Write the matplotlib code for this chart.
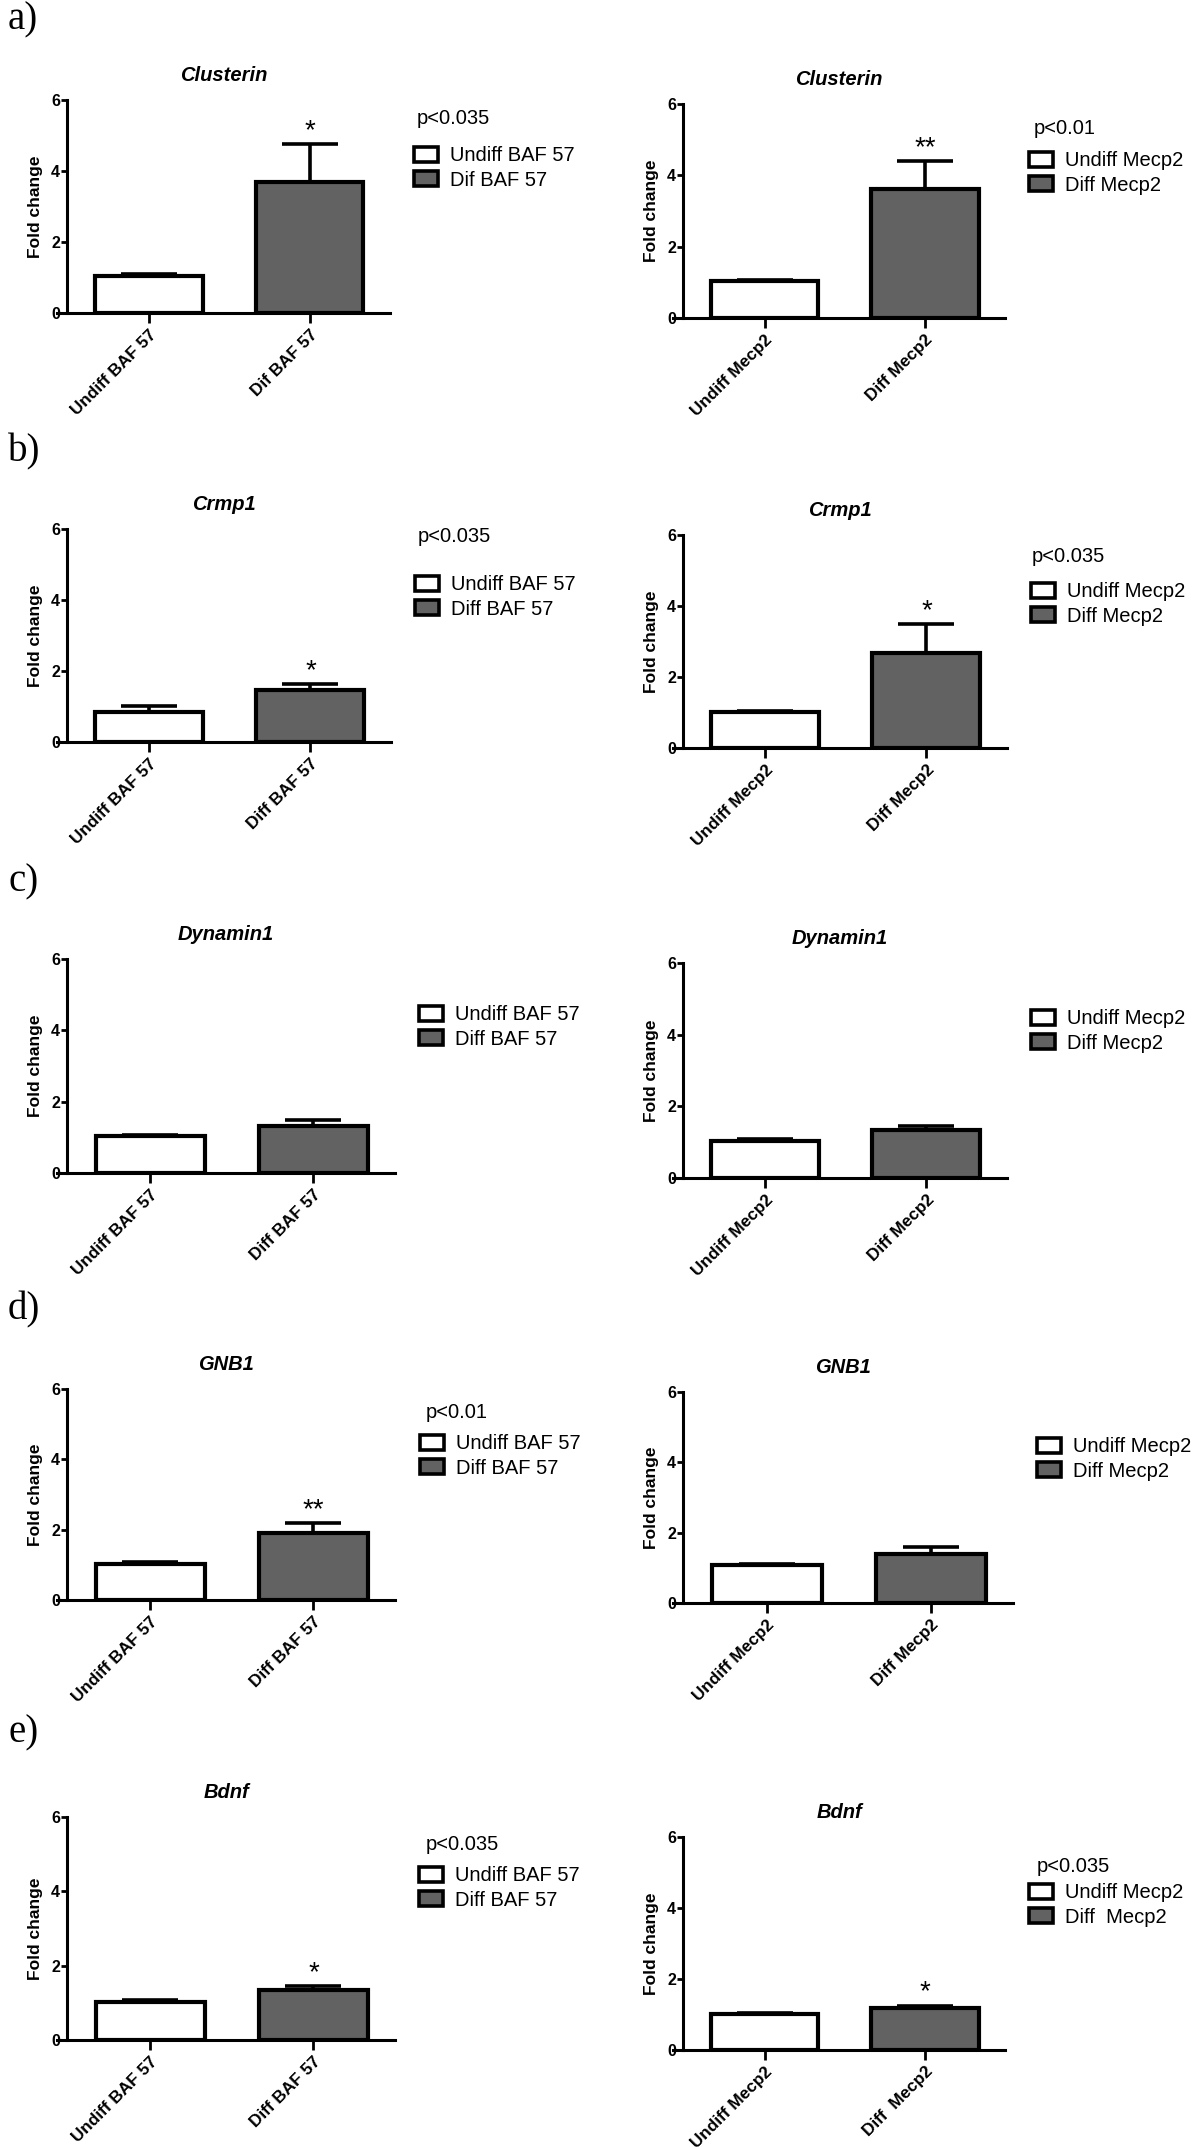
import matplotlib
matplotlib.use('Agg')
import matplotlib.pyplot as plt
from matplotlib.patches import Patch

plt.rcParams['font.family'] = ['Liberation Sans', 'DejaVu Sans']

# data (fold change, mean and upper error)
genes = ['Clusterin', 'Crmp1', 'Dynamin1', 'GNB1', 'Bdnf']
letters = ['a)', 'b)', 'c)', 'd)', 'e)']

baf_groups = [['Undiff BAF 57', 'Dif BAF 57'],
              ['Undiff BAF 57', 'Diff BAF 57'],
              ['Undiff BAF 57', 'Diff BAF 57'],
              ['Undiff BAF 57', 'Diff BAF 57'],
              ['Undiff BAF 57', 'Diff BAF 57']]
baf_means = [[1.03, 3.68], [0.85, 1.47], [1.03, 1.31], [1.02, 1.90], [1.02, 1.35]]
baf_err = [[0.07, 1.08], [0.17, 0.15], [0.04, 0.19], [0.05, 0.28], [0.06, 0.11]]
baf_p = ['p<0.035', 'p<0.035', '', 'p<0.01', 'p<0.035']
baf_stars = ['*', '*', '', '**', '*']

mecp2_groups = [['Undiff Mecp2', 'Diff Mecp2'],
                ['Undiff Mecp2', 'Diff Mecp2'],
                ['Undiff Mecp2', 'Diff Mecp2'],
                ['Undiff Mecp2', 'Diff Mecp2'],
                ['Undiff Mecp2', 'Diff  Mecp2']]
mecp2_means = [[1.03, 3.63], [1.02, 2.68], [1.03, 1.35], [1.07, 1.40], [1.01, 1.19]]
mecp2_err = [[0.04, 0.76], [0.02, 0.81], [0.05, 0.09], [0.04, 0.19], [0.04, 0.06]]
mecp2_p = ['p<0.01', 'p<0.035', '', '', 'p<0.035']
mecp2_stars = ['**', '*', '', '', '*']

# layout in pixels of the 1200x2147 canvas: (y-axis x, x1, y_top, y_zero)
W, H = 1200, 2147
left_boxes = [(67, 390, 100, 313), (67, 391, 529, 742), (67, 395, 959, 1173),
              (67, 395, 1389, 1600), (67, 395, 1817, 2040)]
right_boxes = [(683, 1005, 104, 318), (683, 1007, 535, 748), (683, 1007, 963, 1178),
               (683, 1013, 1392, 1603), (683, 1005, 1837, 2050)]
# (legend box left, legend middle y, p-text x, p-text y)
left_leg = [(414, 168, 417, 118), (415, 597, 418, 537), (419, 1027, 0, 0),
            (420, 1456, 426, 1412), (419, 1888, 426, 1845)]
right_leg = [(1029, 173, 1034, 129), (1031, 604, 1032, 557), (1031, 1031, 0, 0),
             (1037, 1459, 0, 0), (1029, 1905, 1037, 1866)]
letter_y = [20, 452, 882, 1310, 1733]

WHITE = 'white'
GREY = '#626262'
XMIN, XMAX, OVER = -0.51, 1.5, 0.06   # x-axis line overhangs the y axis a little

fig = plt.figure(figsize=(W / 100, H / 100), dpi=100)


def fx(px):
    return px / W


def fy(py):
    return 1 - py / H


def panel(box, leg, gene, groups, means, err, ptxt, star):
    x0, x1, yt, yb = box
    unit = (x1 - x0) / (XMAX - XMIN)
    bx0 = x0 - OVER * unit
    ax = fig.add_axes([fx(bx0), fy(yb), fx(x1 - bx0), (yb - yt) / H])
    xs = [0, 1]
    ax.bar(xs, means, width=0.67, color=[WHITE, GREY], edgecolor='black',
           linewidth=3.0, zorder=3)
    ax.errorbar(xs, means, yerr=[[0, 0], err], fmt='none', ecolor='black',
                elinewidth=2.6, capsize=20, capthick=2.6, zorder=2)
    ax.set_xlim(XMIN - OVER, XMAX)
    ax.set_ylim(0, 6)
    ax.spines['left'].set_position(('data', XMIN))
    ax.set_yticks([0, 2, 4, 6])
    ax.set_xticks(xs)
    ax.set_xticklabels(groups, rotation=45, ha='right', rotation_mode='anchor',
                       fontsize=12.3, fontweight='bold')
    for lab in ax.get_yticklabels():
        lab.set_fontweight('bold')
        lab.set_fontsize(11.5)
    ax.tick_params(axis='y', length=4, width=2, pad=1)
    ax.tick_params(axis='x', length=7, width=2, pad=3)
    for s in ['top', 'right']:
        ax.spines[s].set_visible(False)
    for s in ['left', 'bottom']:
        ax.spines[s].set_linewidth(2.2)
    ax.set_ylabel('Fold change', fontsize=12.5, fontweight='bold', labelpad=6)
    ax.set_title(gene, fontsize=14.5, fontweight='bold', fontstyle='italic', pad=14)
    if star:
        ax.annotate(star, (1, means[1] + err[1]), xytext=(0, 0),
                    textcoords='offset points', ha='center', va='bottom',
                    fontsize=20)
    lx, ly, px, py = leg
    handles = [Patch(facecolor=WHITE, edgecolor='black', linewidth=2.6),
               Patch(facecolor=GREY, edgecolor='black', linewidth=2.6)]
    fig.legend(handles, groups, loc='center left', bbox_to_anchor=(fx(lx), fy(ly)),
               bbox_transform=fig.transFigure, frameon=False, fontsize=14.5,
               handlelength=1.2, handleheight=0.8, handletextpad=0.6,
               labelspacing=0.27, borderpad=0, borderaxespad=0)
    if ptxt:
        fig.text(fx(px), fy(py), ptxt, fontsize=14.5, ha='left', va='center')


for i in range(5):
    panel(left_boxes[i], left_leg[i], genes[i], baf_groups[i], baf_means[i],
          baf_err[i], baf_p[i], baf_stars[i])
    panel(right_boxes[i], right_leg[i], genes[i], mecp2_groups[i], mecp2_means[i],
          mecp2_err[i], mecp2_p[i], mecp2_stars[i])
    fig.text(fx(8), fy(letter_y[i]), letters[i], fontsize=28,
             family=['Liberation Serif', 'DejaVu Serif'], ha='left', va='center')

fig.savefig('out.png', dpi=100)
